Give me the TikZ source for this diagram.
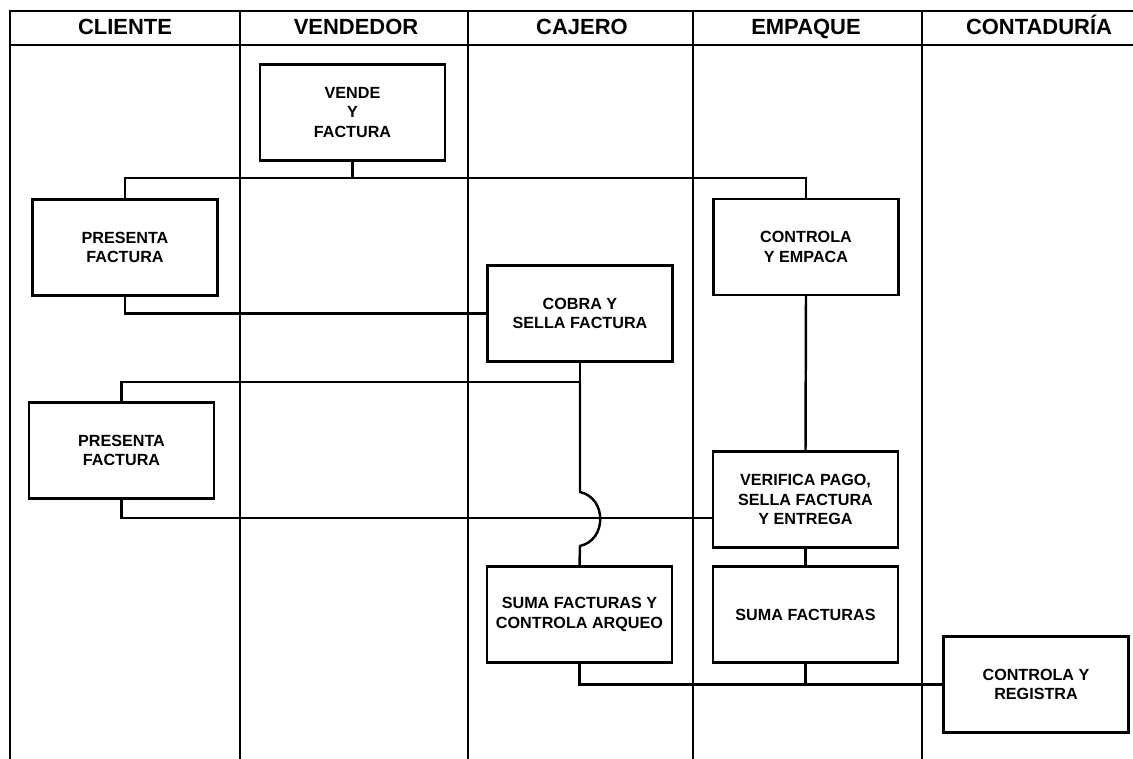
\documentclass[tikz,border=0pt]{standalone}
\usepackage{fontspec}
\setmainfont{Liberation Sans}

\begin{document}
\begin{tikzpicture}[x=0.02cm, y=-0.02cm, line width=1.4pt,
    box/.style={draw, fill=white, align=center, inner sep=1pt,
        minimum width=3.7cm, minimum height=1.92cm,
        font=\bfseries\fontsize{9.2}{11.3}\selectfont},
    lane/.style={anchor=base, font=\bfseries\fontsize{12.5}{14}\selectfont}]
    \useasboundingbox (0,0) rectangle (1133,759);
    \draw (10,759) |- (1133,11);
    \draw (10,45) -- (1133,45);
    \foreach \x in {240,468,693,922}
        \draw[line width=1.2pt] (\x,11) -- (\x,759);
    \node[lane] (hC) at (125,35) {CLIENTE};
    \node[lane] (hV) at (356,35) {VENDEDOR};
    \node[lane] (hJ) at (582,35) {CAJERO};
    \node[lane] (hE) at (806,35) {EMPAQUE};
    \node[lane] (hK) at (1039,35) {CONTADURÍA};

    \node[box] (V) at (352.5,112.5) {VENDE\\Y\\FACTURA};
    \node[box] (P1) at (125,247.5) {PRESENTA\\FACTURA};
    \node[box] (E1) at (806,247) {CONTROLA\\Y EMPACA};
    \node[box] (C) at (580,313.5) {COBRA Y\\SELLA FACTURA};
    \node[box] (P2) at (121.5,450.5) {PRESENTA\\FACTURA};
    \node[box] (E2) at (805.5,499.5) {VERIFICA PAGO,\\SELLA FACTURA\\Y ENTREGA};
    \node[box] (C2) at (579.5,614.5) {SUMA FACTURAS Y\\CONTROLA ARQUEO};
    \node[box] (E3) at (805.5,614.5) {SUMA FACTURAS};
    \node[box] (R) at (1036,684.5) {CONTROLA Y\\REGISTRA};

    \coordinate (j1) at (352.5,178);
    \coordinate (j2) at (580,382);
    \coordinate (j3) at (580,492);
    \coordinate (j4) at (580,546);
    \coordinate (j5) at (121.5,518);

    \draw (V.south) -- (j1);
    \draw (P1.north) |- (j1) -| (E1.north);
    \draw (P1.south) |- (C.west);
    \draw (E1.south) -- (E2.north);
    \draw (C.south) -- (j2) -| (P2.north);
    \draw (P2.south) -- (j5) -- (E2.west |- j5);
    \draw (j2) -- (j3) .. controls +(27,6) and +(27,-6) .. (j4) -- (C2.north);
    \draw (E2.south) -- (E3.north);
    \draw (C2.south) |- (R.west);
    \draw (E3.south) -- (E3.south |- R.west);
\end{tikzpicture}
\end{document}
